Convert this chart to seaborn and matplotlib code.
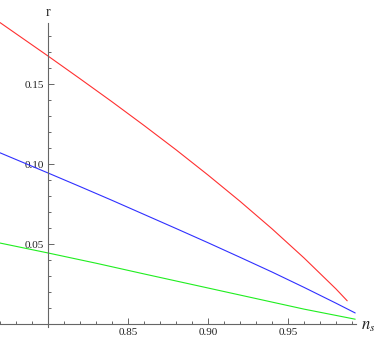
import numpy as np
import pandas as pd
import matplotlib
matplotlib.use("Agg")
import matplotlib.pyplot as plt
import seaborn as sns
from matplotlib.ticker import FixedLocator

# values
ns_red = [0.77, 0.80, 0.82, 0.84, 0.86, 0.88, 0.90, 0.92, 0.94, 0.96, 0.98, 0.987]
r_red = [0.1884, 0.1675, 0.1533, 0.1389, 0.1241, 0.1089, 0.0931, 0.0767, 0.0595, 0.0413, 0.0219, 0.0145]

ns_blue = [0.77, 0.80, 0.82, 0.84, 0.86, 0.88, 0.90, 0.92, 0.94, 0.96, 0.98, 0.992]
r_blue = [0.107, 0.0944, 0.0859, 0.0773, 0.0685, 0.0597, 0.0508, 0.0417, 0.0325, 0.0229, 0.0130, 0.0069]

ns_green = [0.77, 0.80, 0.83, 0.86, 0.90, 0.93, 0.96, 0.992]
r_green = [0.0506, 0.0444, 0.0380, 0.0313, 0.0225, 0.0159, 0.0093, 0.0030]

x_major = [0.85, 0.90, 0.95]
x_labels = ["0.85", "0.90", "0.95"]
y_major = [0.05, 0.10, 0.15]
y_labels = ["0.05", "0.10", "0.15"]

sns.set_theme(style="white")
plt.rcParams['font.family'] = ['Liberation Serif', 'DejaVu Serif']
plt.rcParams['mathtext.fontset'] = 'stix'

fig = plt.figure(figsize=(3.74, 3.38), dpi=100)
ax = fig.add_axes([0, 0, 1, 1])

df = pd.concat([
    pd.DataFrame({'ns': ns_red, 'r': r_red, 'curve': 'red'}),
    pd.DataFrame({'ns': ns_blue, 'r': r_blue, 'curve': 'blue'}),
    pd.DataFrame({'ns': ns_green, 'r': r_green, 'curve': 'green'}),
])
palette = {'red': '#ff3030', 'blue': '#3030ff', 'green': '#20ee20'}
sns.lineplot(data=df, x='ns', y='r', hue='curve', palette=palette,
             linewidth=0.8, legend=False, ax=ax, sort=False)

# 1600 px per unit on both axes, axes crossing at (0.8, 0)
ax.set_xlim(0.77, 0.77 + 374 / 1600)
ax.set_ylim(-14 / 1600, 324 / 1600)

for s in ['top', 'right']:
    ax.spines[s].set_visible(False)
ax.spines['left'].set_position(('data', 0.8))
ax.spines['bottom'].set_position(('data', 0.0))
ax.spines['left'].set_bounds(-0.002, 0.188)
ax.spines['bottom'].set_bounds(0.77, 0.9925)
for s in ['left', 'bottom']:
    ax.spines[s].set_color('#666666')
    ax.spines[s].set_linewidth(0.8)

ax.xaxis.set_major_locator(FixedLocator(x_major))
ax.set_xticklabels(x_labels)
ax.xaxis.set_minor_locator(FixedLocator(np.arange(0.77, 0.995, 0.01)))
ax.yaxis.set_major_locator(FixedLocator(y_major))
ax.set_yticklabels(y_labels)
ax.yaxis.set_minor_locator(FixedLocator(np.arange(0.01, 0.185, 0.01)))

ax.tick_params(which='both', direction='in', color='#666666', width=0.7,
               labelsize=8, labelcolor='#222222', pad=3,
               bottom=True, left=True)
ax.tick_params(which='major', length=4)
ax.tick_params(which='minor', length=2)
ax.set_xlabel('')
ax.set_ylabel('')

ax.text(0.8, 0.195, 'r', ha='center', va='center', fontsize=10, color='#222222')
ax.text(1.0, -0.0012, r'$n_s$', ha='center', va='center', fontsize=12, color='#222222')

fig.savefig('out.png', dpi=100)
